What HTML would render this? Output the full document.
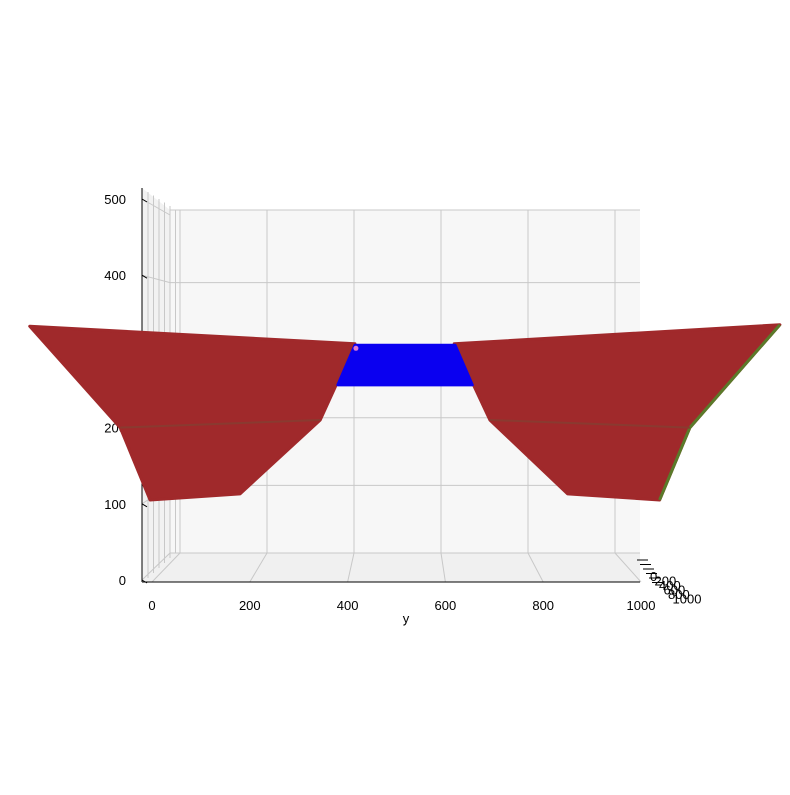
<!DOCTYPE html>
<html><head><meta charset="utf-8"><style>
body{margin:0;background:#fff}
svg text{font-family:"Liberation Sans","DejaVu Sans",sans-serif;font-size:13px;fill:#000}
</style></head><body>
<svg id="chart" width="790" height="790" viewBox="0 0 790 790" xmlns="http://www.w3.org/2000/svg">
<g id="panes">
<polygon points="170,210 640,210 640,553 170,553" fill="#f7f7f7"/>
<polygon points="142,188 170,210 170,553 142,582" fill="#f2f2f2"/>
<polygon points="142,582 170,553 640,553 640,582" fill="#f0f0f0"/>
</g>
<g id="grid"></g>
<g id="axes"></g>
<g id="marks"></g>
</svg>
<script>
const yTicks=[0,200,400,600,800,1000];
const zTicks=[0,100,200,300,400,500];
const depthTicks=["0","200","400","600","800","1000"];
// left profile (y, z)
const leftY=[-250,415,344,180,-4,-65];
const leftZ=[333,310,210,113,105,200];
const rightY=[1284,618,691,850,1038,1100];
const rightZ=[335,310,210,113,105,200];
const blueY=[415,620,655,380];
const blueZ=[308,308,256,256];
const shelfY=[-65,344,691,1100];
const shelfZ=[200,210,210,200];

const NS="http://www.w3.org/2000/svg";
const px=y=>152+y*0.489;
const pz=z=>580-z*0.762;
const bx=y=>180+y*0.435;
const bz=z=>553-z*0.676;
function mk(tag,attrs,parent){const e=document.createElementNS(NS,tag);for(const k in attrs)e.setAttribute(k,attrs[k]);parent.appendChild(e);return e;}
const grid=document.getElementById('grid'),marks=document.getElementById('marks'),axes=document.getElementById('axes');
yTicks.forEach((t,i)=>{
  const x=bx(t);
  const l=mk('line',{x1:x,y1:210,x2:x,y2:553,stroke:'#c8c8c8','stroke-width':1},grid);
  
  
  const f=mk('line',{x1:x,y1:553,x2:px(t),y2:582,stroke:'#c8c8c8','stroke-width':1},grid);
  
  
  const lb=mk('text',{x:px(t),y:610,'text-anchor':'middle'},axes);lb.textContent=t;
  
  
});
zTicks.forEach(t=>{
  const y=bz(t);
  const l=mk('line',{x1:170,y1:y+(t===500?-5:0),x2:640,y2:y+(t===500?-5:0),stroke:'#c8c8c8','stroke-width':1},grid);
  
  
  const s=mk('line',{x1:142,y1:pz(t),x2:170,y2:y,stroke:'#c8c8c8','stroke-width':1},grid);
  
  
  const lb=mk('text',{x:126,y:pz(t)+5,'text-anchor':'end'},axes);lb.textContent=t;
  
  
});
for(let i=0;i<6;i++){const x=148+i*5.5;mk('line',{x1:x,y1:192+i*3.5,x2:x,y2:578-i*5,stroke:'#c8c8c8'},grid);}
function poly(Y,Z,fill,name){
  const p=mk('polygon',{points:Y.map((y,i)=>px(y)+','+pz(Z[i])).join(' '),fill:fill,stroke:fill,'stroke-width':3,'stroke-linejoin':'round'},marks);
  
  
}
poly(leftY,leftZ,'#a0292b','left-slope-surface');
poly(rightY,rightZ,'#a0292b','right-slope-surface');
const g=mk('polyline',{points:[0,5,4].map(i=>px(rightY[i])+','+pz(rightZ[i])).join(' '),fill:'none',stroke:'#5a7a2a','stroke-width':3},marks);


for(let k=0;k<2;k++){
  const s=mk('line',{x1:px(shelfY[2*k]),y1:pz(shelfZ[2*k]),x2:px(shelfY[2*k+1]),y2:pz(shelfZ[2*k+1]),stroke:'#8a3a30','stroke-width':2},marks);
  
  
}
poly(blueY,blueZ,'#0a00f0','blue-center-block');
const d=mk('circle',{cx:px(blueY[0])+1,cy:pz(blueZ[0])+3,r:2.5,fill:'#e07ad0'},marks);


mk('line',{x1:142,y1:188,x2:142,y2:582,stroke:'#000'},axes);
mk('line',{x1:142,y1:582,x2:640,y2:582,stroke:'#000'},axes);
zTicks.forEach(t=>mk('line',{x1:142,y1:pz(t),x2:147,y2:pz(t)+3,stroke:'#000'},axes));
depthTicks.forEach((t,i)=>{
  const y=560+i*4.5;
  mk('line',{x1:637+i*3,y1:y,x2:648+i*3,y2:y,stroke:'#000'},axes);
  const lb=mk('text',{x:650+i*4.5,y:y+21},axes);lb.textContent=t;
  
  
});
const yl=mk('text',{x:406,y:623,'text-anchor':'middle'},axes);yl.textContent='y';


</script>
</body></html>
